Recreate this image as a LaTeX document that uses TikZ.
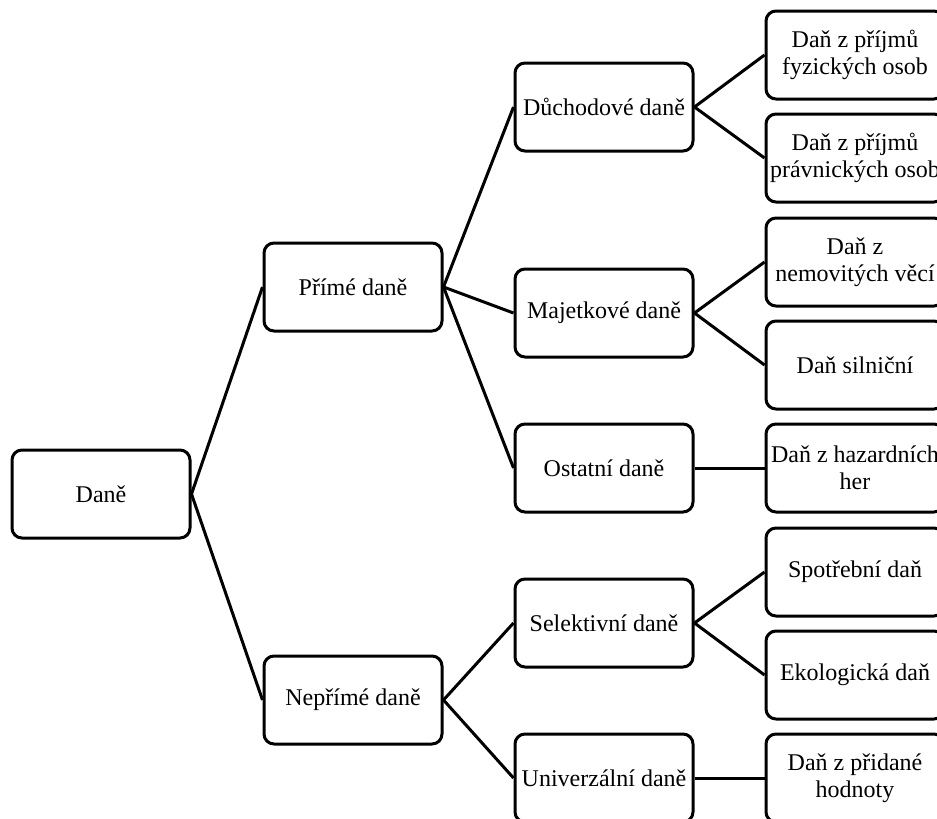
\documentclass[tikz,border=0pt]{standalone}
\usepackage{fontspec}
\setmainfont{Liberation Serif}
\usepackage{tikz}

\begin{document}
\begin{tikzpicture}[x=0.5pt, y=-0.5pt, line width=1.5pt,
    every node/.style={shape=rectangle, rounded corners=5pt, draw=black, minimum width=89pt, minimum height=44pt, align=center, inner sep=1pt, font=\fontsize{12}{13.5}\selectfont}]
    \useasboundingbox (0, 0) rectangle (937, 819);
    \clip (0, 0) rectangle (937, 819);

    \node (0) at (101, 494) {Daně};
    \node (1) at (353, 287) {Přímé daně};
    \node (2) at (353, 700) {Nepřímé daně};

    \node (11) at (604, 107) {Důchodové daně};
    \node (12) at (604, 313) {Majetkové daně};
    \node (13) at (604, 468) {Ostatní daně};
    \node (21) at (604, 623) {Selektivní daně};
    \node (22) at (604, 778) {Univerzální daně};

    \node (111) at (855, 55) {Daň z příjmů\\fyzických osob};
    \node (112) at (855, 158) {Daň z příjmů\\právnických osob};
    \node (121) at (855, 262) {Daň z\\nemovitých věcí};
    \node (122) at (855, 365) {Daň silniční};
    \node (131) at (855, 468) {Daň z hazardních\\her};
    \node (211) at (855, 572) {Spotřební daň};
    \node (212) at (855, 675) {Ekologická daň};
    \node (221) at (855, 778) {Daň z přidané\\hodnoty};

    \path (0.east) edge (1.west);
    \path (0.east) edge (2.west);
    \path (1.east) edge (11.west);
    \path (1.east) edge (12.west);
    \path (1.east) edge (13.west);
    \path (2.east) edge (21.west);
    \path (2.east) edge (22.west);
    \path (11.east) edge (111.west);
    \path (11.east) edge (112.west);
    \path (12.east) edge (121.west);
    \path (12.east) edge (122.west);
    \path (13.east) edge (131.west);
    \path (21.east) edge (211.west);
    \path (21.east) edge (212.west);
    \path (22.east) edge (221.west);
\end{tikzpicture}
\end{document}
